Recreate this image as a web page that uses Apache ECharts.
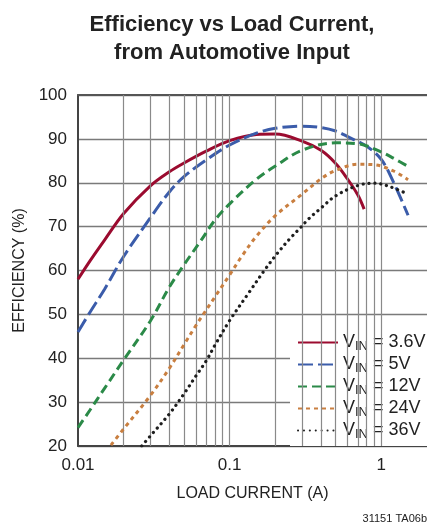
<!DOCTYPE html>
<html><head><meta charset="utf-8">
<script src="https://cdn.jsdelivr.net/npm/echarts@6/dist/echarts.min.js"></script>
<style>html,body{margin:0;padding:0;background:#fff}#c{width:427px;height:525px}</style>
</head><body><div id="c"></div>
<script>
const FONT = '"Liberation Sans Narrow", "Liberation Sans", Arial, sans-serif';

// Load current (A) and efficiency (%) per input voltage
const vinNames = ['3.6V', '5V', '12V', '24V', '36V'];
const i36 = [0.01, 0.012, 0.015, 0.02, 0.03, 0.04, 0.05, 0.07, 0.1, 0.15, 0.2, 0.3, 0.4, 0.5, 0.6, 0.7, 0.77];
const e36 = [58, 62.2, 67, 73, 79.3, 82.5, 84.5, 87.2, 89.6, 91, 91.1, 89.5, 87.4, 84.4, 80.8, 77.2, 74];
const i5 = [0.01, 0.012, 0.015, 0.02, 0.03, 0.04, 0.05, 0.07, 0.1, 0.15, 0.2, 0.3, 0.4, 0.5, 0.6, 0.8, 1.0, 1.2, 1.5];
const e5 = [46, 50.5, 55.8, 63.2, 72, 77.9, 81.4, 85.2, 88.6, 91.3, 92.4, 92.9, 92.6, 91.8, 90.5, 88.3, 85.3, 80.2, 72.6];
const i12 = [0.01, 0.012, 0.015, 0.02, 0.03, 0.04, 0.05, 0.064, 0.08, 0.1, 0.15, 0.2, 0.3, 0.5, 0.7, 1.0, 1.2, 1.54];
const e12 = [24.2, 28.2, 33.2, 39.6, 48.5, 56.2, 61.3, 66.6, 71.5, 75.2, 80.8, 83.8, 87.4, 89.1, 88.9, 87, 85.6, 83.5];
const i24 = [0.0165, 0.02, 0.03, 0.04, 0.05, 0.06, 0.07, 0.08, 0.1, 0.12, 0.15, 0.2, 0.3, 0.4, 0.5, 0.7, 0.9, 1.2, 1.5];
const e24 = [20.2, 23.9, 31.5, 37.7, 43.1, 47.5, 51, 54, 59, 63.2, 67.8, 72.5, 77.4, 80.9, 82.8, 84.2, 84.1, 82.7, 80.7];
const i36v = [0.0263, 0.03, 0.04, 0.05, 0.06, 0.07, 0.08, 0.1, 0.133, 0.17, 0.204, 0.25, 0.29, 0.33, 0.39, 0.51, 0.72, 0.9, 1.14, 1.5];
const e36v = [20, 22.3, 27.3, 31.9, 36, 39.4, 43, 48.6, 54.8, 60.1, 63.7, 67.3, 69.6, 71.7, 73.9, 77.2, 79.5, 79.9, 79.1, 77.4];

// Axis ticks
const xMin = 0.01, xMax = 2;
const xLabels = { '0.01': '0.01', '0.1': '0.1', '1': '1' };
const xGridValues = [0.02, 0.03, 0.04, 0.05, 0.06, 0.07, 0.08, 0.09, 0.1, 0.2, 0.3, 0.4, 0.5, 0.6, 0.7, 0.8, 0.9, 1];
const yMin = 20, yMax = 100, yStep = 10;

const pairs = (xs, ys) => xs.map((x, k) => [x, ys[k]]);
const colors = ['#9b0b2f', '#3b5caa', '#2b8a48', '#c97f40', '#1e1e1e'];
const dashes = ['solid', [15, 5], [9, 5], [4, 4], [0.1, 5.8]];
const sets = [pairs(i36, e36), pairs(i5, e5), pairs(i12, e12), pairs(i24, e24), pairs(i36v, e36v)];

const chart = echarts.init(document.getElementById('c'), null, { renderer: 'canvas' });

const series = [{
  type: 'line', name: 'grid', data: [], z: 1, silent: true,
  markLine: {
    silent: true, symbol: ['none', 'none'], animation: false,
    label: { show: false },
    lineStyle: { color: '#8a8a8a', width: 1.2, type: 'solid' },
    emphasis: { disabled: true },
    data: xGridValues.map(v => ({ xAxis: v }))
  }
}].concat(sets.map((d, k) => ({
  type: 'line', name: vinNames[k], data: d, z: 3 + k,
  smooth: 0.35, symbol: 'none', showSymbol: false,
  lineStyle: { color: colors[k], width: k === 4 ? 3.2 : 3, type: dashes[k], cap: k === 4 ? 'round' : 'butt' },
  itemStyle: { color: colors[k] },
  emphasis: { disabled: true }
})));

chart.setOption({
  animation: false,
  backgroundColor: '#fff',
  textStyle: { fontFamily: FONT },
  grid: { left: 78, right: 0, top: 95, bottom: 79, containLabel: false },
  xAxis: [{
    type: 'log', logBase: 10, min: xMin, max: xMax,
    name: 'LOAD CURRENT (A)', nameLocation: 'middle', nameGap: 40,
    nameTextStyle: { fontSize: 16, color: '#222', fontFamily: FONT },
    axisLine: { show: true, lineStyle: { color: '#444', width: 2 } },
    axisTick: { show: false },
    splitLine: { show: false },
    axisLabel: {
      fontSize: 17, color: '#222', margin: 11, fontFamily: FONT,
      showMaxLabel: false,
      formatter: v => { const k = String(+v.toPrecision(6)); return xLabels[k] || ''; }
    }
  }, {
    type: 'log', logBase: 10, min: xMin, max: xMax, position: 'top',
    axisLine: { show: true, lineStyle: { color: '#555', width: 2 } },
    axisTick: { show: false }, axisLabel: { show: false }, splitLine: { show: false }
  }],
  yAxis: {
    type: 'value', min: yMin, max: yMax, interval: yStep,
    name: 'EFFICIENCY (%)', nameLocation: 'middle', nameGap: 50,
    nameTextStyle: { fontSize: 16, color: '#222', fontFamily: FONT },
    axisLine: { show: true, lineStyle: { color: '#444', width: 2 } },
    axisTick: { show: false },
    axisLabel: { fontSize: 17, color: '#222', margin: 11, fontFamily: FONT },
    splitLine: { show: true, lineStyle: { color: '#7a7a7a', width: 1.3 } }
  },
  legend: {
    data: vinNames, orient: 'vertical', left: 290, top: 326,
    backgroundColor: '#fff', padding: [6, 6, 5, 7],
    itemWidth: 40, itemHeight: 12, itemGap: 1,
    selectedMode: false,
    itemStyle: { color: 'rgba(0,0,0,0)', borderWidth: 0, opacity: 0 },
    formatter: n => '{v|V}{s|IN}{v| = ' + n + '}',
    textStyle: {
      rich: {
        v: { fontSize: 18, color: '#222', fontFamily: FONT, lineHeight: 18 },
        s: { fontSize: 13, color: '#222', fontFamily: FONT, lineHeight: 12, padding: [8, 0, 0, 0] }
      }
    }
  },
  graphic: [{
    type: 'text', x: 232, y: 11, silent: true,
    style: { text: 'Efficiency vs Load Current,\nfrom Automotive Input',
      font: 'bold 22px ' + FONT, fill: '#222', textAlign: 'center', textVerticalAlign: 'top', lineHeight: 28 }
  }, {
    type: 'text', right: 0, top: 513, silent: true,
    style: { text: '31151 TA06b', font: '11px ' + FONT, fill: '#222' }
  }],
  series: series
});
</script></body></html>
